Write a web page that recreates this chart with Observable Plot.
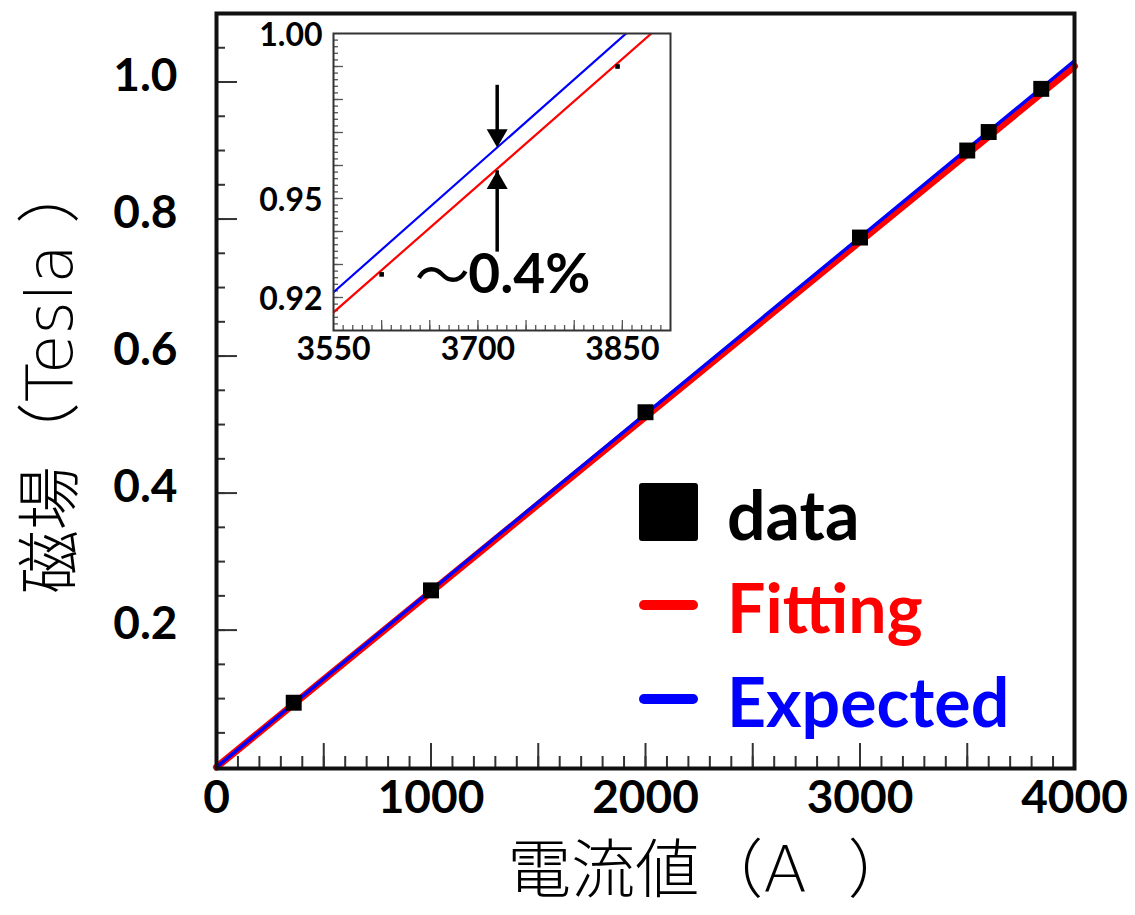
<!DOCTYPE html>
<html><head><meta charset="utf-8">
<script src="https://cdn.jsdelivr.net/npm/d3@7"></script>
<script src="https://cdn.jsdelivr.net/npm/@observablehq/plot@0.6"></script>
<style>
html,body{margin:0;padding:0;background:#fff;}
#wrap{position:relative;width:1135px;height:915px;overflow:hidden;}
#wrap svg{position:absolute;}
</style></head><body><div id="wrap"></div>
<script>
// ---- data ----
const currentA = [360, 1000, 2000, 3000, 3500, 3600, 3845];
const fieldT   = [0.094, 0.258, 0.518, 0.773, 0.900, 0.927, 0.990];
const fitCurrent = [0, 4000];
const fitField   = [0, 1.023];
const expCurrent = [0, 4000];
const expField   = [0, 1.031];
const insetFitCurrent = [3550, 3900];
const insetFitField   = [0.9155, 1.0051];
const insetExpCurrent = [3550, 3900];
const insetExpField   = [0.9216, 1.0119];
const xTickLabels = [0, 1000, 2000, 3000, 4000];
const yTickLabels = ["0.2", "0.4", "0.6", "0.8", "1.0"];
const insetXTickLabels = [3550, 3700, 3850];
const insetYTickLabels = ["0.92", "0.95", "1.00"];
const arrowDown = {x: 3720, from: 0.9843, tip: 0.9655};
const arrowUp   = {x: 3720, from: 0.938,  tip: 0.9584};
const diffLabel = {x: 3690, y: 0.9273, text: "0.4%"};
const tildeLabel = {x: 3663, y: 0.926, text: "～"};
const legendLabels = ["data", "Fitting", "Expected"];
const legendColors = ["#000000", "#ff0000", "#0000ff"];
const xTitle = "電流値（A  ）";
const yTitle = "磁場（Tesla ）";

const points = currentA.map((x, i) => ({x, y: fieldT[i]}));
const fitLine = fitCurrent.map((x, i) => ({x, y: fitField[i]}));
const expLine = expCurrent.map((x, i) => ({x, y: expField[i]}));
const insetFit = insetFitCurrent.map((x, i) => ({x, y: insetFitField[i]}));
const insetExp = insetExpCurrent.map((x, i) => ({x, y: insetExpField[i]}));

const wrap = document.getElementById("wrap");
const titleFont = "'DejaVu Sans', 'Noto Sans CJK JP', sans-serif";

// ---- main chart ----
const W = 1135, H = 915, ML = 216, MR = 61, MT = 13, MB = 147;
const PW = W - ML - MR, PH = H - MT - MB;
const tickColor = "#333";
const main = Plot.plot({
  width: W, height: H,
  marginLeft: ML, marginRight: MR, marginTop: MT, marginBottom: MB,
  style: {background: "transparent", fontFamily: "Lato, sans-serif", overflow: "visible"},
  x: {domain: [0, 4000], axis: null},
  y: {domain: [-0.002, 1.1], axis: null},
  marks: [
    Plot.tickX(d3.range(1, 40).map(i => i * 100), {x: d => d, insetTop: PH - 12, stroke: tickColor, strokeWidth: 2}),
    Plot.tickX(d3.range(1, 8).map(i => i * 500), {x: d => d, insetTop: PH - 25, stroke: tickColor, strokeWidth: 2}),
    Plot.tickY(d3.range(1, 22).map(i => i * 0.05), {y: d => d, insetRight: PW - 9, stroke: tickColor, strokeWidth: 2}),
    Plot.tickY(d3.range(1, 6).map(i => i * 0.2), {y: d => d, insetRight: PW - 21, stroke: tickColor, strokeWidth: 2}),
    Plot.line(fitLine, {x: "x", y: "y", stroke: "#ff0000", strokeWidth: 7}),
    Plot.line(expLine, {x: "x", y: "y", stroke: "#0000ff", strokeWidth: 3.5}),
    Plot.dot(points, {x: "x", y: "y", symbol: "square", r: 9, fill: "#000", stroke: "none"}),
    Plot.frame({stroke: "#111", strokeWidth: 4}),
    Plot.text(xTickLabels, {x: d => d, text: d => String(d), frameAnchor: "bottom", dy: 44, fontSize: 46, fontWeight: "bold", fill: "#000"}),
    Plot.text(yTickLabels, {y: d => +d, text: d => d, frameAnchor: "left", dx: -39, dy: -6, textAnchor: "end", fontSize: 46, fontWeight: "bold", fill: "#000"}),
    Plot.text([xTitle], {text: d => d, frameAnchor: "bottom", textAnchor: "middle", dx: 64, dy: 123, fontSize: 64, fontFamily: titleFont, fontWeight: 300, fill: "#000"}),
    Plot.text([yTitle], {text: d => d, frameAnchor: "left", textAnchor: "middle", dx: -164.5, dy: -14, rotate: -90, fontSize: 64, fontFamily: titleFont, fontWeight: 300, fill: "#000"})
  ]
});
main.style.left = "0px"; main.style.top = "0px";
wrap.appendChild(main);

// legend
const lg = d3.select(main).append("g")
  .attr("font-family", "Lato, sans-serif").attr("font-weight", "bold")
  .attr("font-size", 68).attr("text-anchor", "start");
const legendRowY = [540, 633, 727];
legendLabels.forEach((lab, i) => {
  if (i === 0) {
    lg.append("rect").attr("x", 639).attr("y", 483).attr("width", 59).attr("height", 58).attr("rx", 3).attr("fill", legendColors[i]);
  } else {
    lg.append("rect").attr("x", 639).attr("y", legendRowY[i] - 33).attr("width", 59).attr("height", 10).attr("rx", 5).attr("fill", legendColors[i]);
  }
  lg.append("text").attr("x", 727).attr("y", legendRowY[i]).attr("text-anchor", "start").attr("fill", legendColors[i]).text(lab);
});

// ---- inset ----
const IW = 440, IH = 380, IML = 93, IMR = 10, IMT = 33, IMB = 50;
const IPW = IW - IML - IMR, IPH = IH - IMT - IMB;
const insetTick = "#555";
const inset = Plot.plot({
  width: IW, height: IH,
  marginLeft: IML, marginRight: IMR, marginTop: IMT, marginBottom: IMB,
  style: {background: "transparent", fontFamily: "Lato, sans-serif", overflow: "visible"},
  x: {domain: [3550, 3900], axis: null},
  y: {domain: [0.91, 1.0], axis: null},
  marks: [
    Plot.tickX(d3.range(1, 35).map(i => 3550 + i * 10), {x: d => d, insetTop: IPH - 5, stroke: insetTick, strokeWidth: 1.3}),
    Plot.tickX(d3.range(1, 7).map(i => 3550 + i * 50), {x: d => d, insetTop: IPH - 10, stroke: insetTick, strokeWidth: 1.3}),
    Plot.tickY(d3.range(1, 45).map(i => 0.91 + i * 0.002), {y: d => d, insetRight: IPW - 5, stroke: insetTick, strokeWidth: 1.3}),
    Plot.tickY(d3.range(1, 9).map(i => 0.91 + i * 0.01), {y: d => d, insetRight: IPW - 10, stroke: insetTick, strokeWidth: 1.3}),
    Plot.line(insetFit, {x: "x", y: "y", stroke: "#ff0000", strokeWidth: 2.2, clip: true}),
    Plot.line(insetExp, {x: "x", y: "y", stroke: "#0000ff", strokeWidth: 2.2, clip: true}),
    Plot.dot(points, {x: "x", y: "y", symbol: "square", r: 2.6, fill: "#000", stroke: "none", clip: true}),
    Plot.ruleX([arrowDown], {x: "x", y1: "from", y2: "tip", insetBottom: 14, stroke: "#000", strokeWidth: 3.5}),
    Plot.dot([arrowDown], {x: "x", y: "tip", symbol: "triangle", r: 7.8, rotate: 180, dy: -12.1, fill: "#000", stroke: "none"}),
    Plot.ruleX([arrowUp], {x: "x", y1: "from", y2: "tip", insetTop: 14, stroke: "#000", strokeWidth: 3.5}),
    Plot.dot([arrowUp], {x: "x", y: "tip", symbol: "triangle", r: 7.8, rotate: 0, dy: 12.1, fill: "#000", stroke: "none"}),
    Plot.frame({stroke: "#333", strokeWidth: 2}),
    Plot.text([diffLabel], {x: "x", y: "y", text: "text", textAnchor: "start", dy: 2, fontSize: 55, fontWeight: "bold", fill: "#000"}),
    Plot.text([tildeLabel], {x: "x", y: "y", text: "text", fontSize: 55, fontFamily: "Noto Sans CJK JP", fill: "#000"}),
    Plot.text(insetXTickLabels, {x: d => d, text: d => String(d), frameAnchor: "bottom", dy: 29, fontSize: 32, fontWeight: "bold", fill: "#000"}),
    Plot.text(insetYTickLabels, {y: d => +d, text: d => d, frameAnchor: "left", dx: -11, dy: 2, textAnchor: "end", fontSize: 32, fontWeight: "bold", fill: "#000"})
  ]
});
inset.style.left = "240px"; inset.style.top = "0px";
wrap.appendChild(inset);
</script>
</body></html>
